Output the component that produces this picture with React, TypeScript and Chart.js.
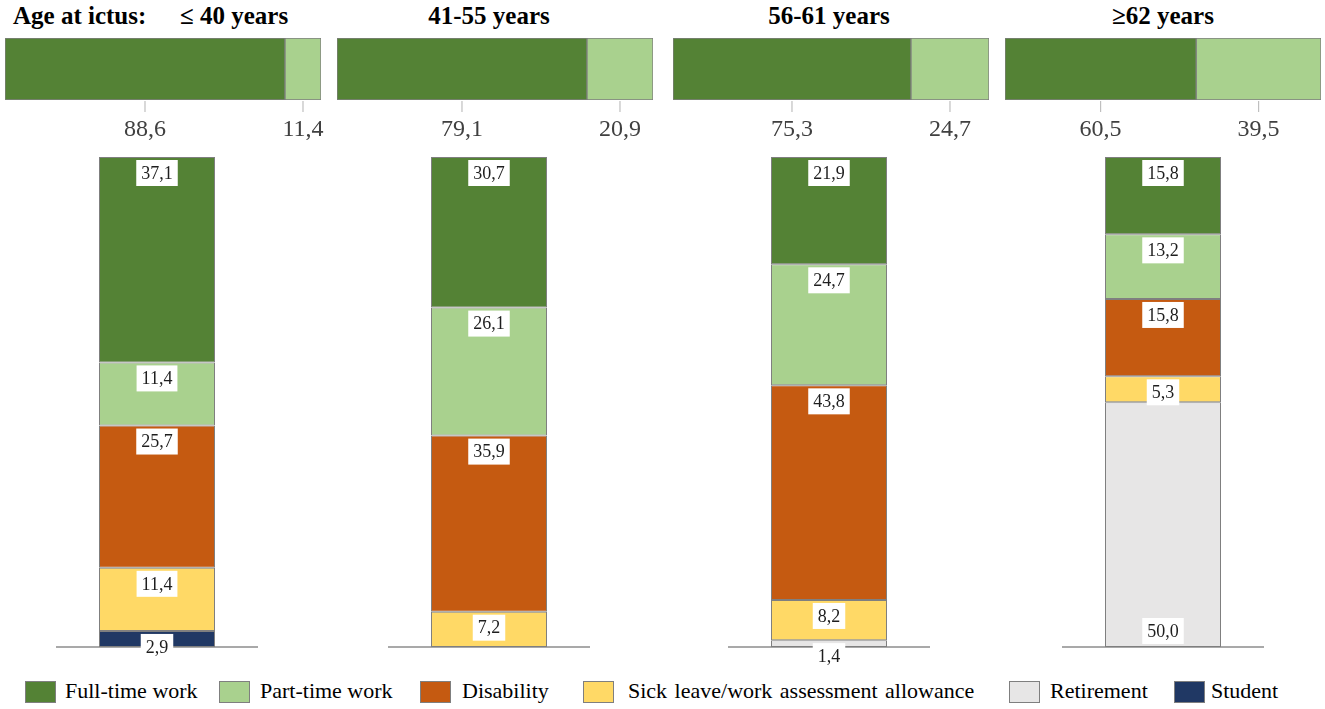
import React, { useEffect, useRef } from "react";
import { Chart, registerables } from "chart.js";

Chart.register(...registerables);

// age groups
const AGE_GROUPS = ["≤ 40 years", "41-55 years", "56-61 years", "≥62 years"];

// top bars: work status at ictus (%)
const AT_ICTUS_FULL = [88.6, 79.1, 75.3, 60.5];
const AT_ICTUS_PART = [11.4, 20.9, 24.7, 39.5];

// columns: status at follow-up (%)
const STATUS_LABELS = [
  "Full-time work",
  "Part-time work",
  "Disability",
  "Sick leave/work assessment allowance",
  "Retirement",
  "Student",
];
const FULL_TIME = [37.1, 30.7, 21.9, 15.8];
const PART_TIME = [11.4, 26.1, 24.7, 13.2];
const DISABILITY = [25.7, 35.9, 43.8, 15.8];
const SICK_LEAVE = [11.4, 7.2, 8.2, 5.3];
const RETIREMENT = [null, null, 1.4, 50.0];
const STUDENT = [2.9, null, null, null];

const STATUS_VALUES: (number | null)[][] = [FULL_TIME, PART_TIME, DISABILITY, SICK_LEAVE, RETIREMENT, STUDENT];
const STATUS_COLORS = ["#548235", "#A9D18E", "#C55A11", "#FFD966", "#E7E6E6", "#203864"];

const FONT = "'Liberation Serif', 'Times New Roman', serif";
const EDGE = "#7f7f7f";

// layout (px)
const TOP_BAR_LEFT = [5, 337, 673, 1005];
const TOP_BAR_WIDTH = 316;
const TOP_PAD = 26;
const COL_CENTER = [157, 489, 829, 1163];
const COL_WIDTH = 202;
const LEGEND_BOX_X = [25, 219, 420, 583, 1009, 1174];
const LEGEND_TEXT_X = [65, 260, 462, 628, 1050, 1211];
// labels anchored at the bottom of their segment, per group
const BASE_ANCHORED = [[], [], [], ["Retirement"]];

const fmt = (v: number) => v.toFixed(1).replace(".", ",");

const topLabels = {
  id: "topLabels",
  afterDatasetsDraw(chart: any) {
    const ctx = chart.ctx;
    ctx.save();
    ctx.font = `24px ${FONT}`;
    ctx.textAlign = "center";
    ctx.textBaseline = "middle";
    chart.data.datasets.forEach((ds: any, di: number) => {
      const el = chart.getDatasetMeta(di).data[0];
      if (!el) return;
      const { x, y, base, height } = el.getProps(["x", "y", "base", "height"], true);
      const cx = (x + base) / 2;
      const bottom = y + height / 2;
      ctx.strokeStyle = "#bfbfbf";
      ctx.lineWidth = 1.2;
      ctx.beginPath();
      ctx.moveTo(cx, bottom + 1);
      ctx.lineTo(cx, bottom + 12);
      ctx.stroke();
      ctx.fillStyle = "#404040";
      ctx.fillText(fmt(ds.data[0]), cx, bottom + 30);
    });
    ctx.restore();
  },
};

const columnLabels = {
  id: "columnLabels",
  beforeDatasetsDraw(chart: any) {
    const { ctx, chartArea } = chart;
    ctx.save();
    ctx.strokeStyle = "#8c8c8c";
    ctx.lineWidth = 1.5;
    ctx.beginPath();
    ctx.moveTo(chartArea.left, chartArea.bottom);
    ctx.lineTo(chartArea.right, chartArea.bottom);
    ctx.stroke();
    ctx.restore();
  },
  afterDatasetsDraw(chart: any, _args: any, opts: any) {
    const ctx = chart.ctx;
    ctx.save();
    ctx.font = `18px ${FONT}`;
    ctx.textAlign = "center";
    ctx.textBaseline = "middle";
    chart.data.datasets.forEach((ds: any, di: number) => {
      if (ds.rawValue == null) return;
      const el = chart.getDatasetMeta(di).data[0];
      if (!el) return;
      const { x, y, base } = el.getProps(["x", "y", "base"], true);
      const top = Math.min(y, base);
      const bottom = Math.max(y, base);
      const text = fmt(ds.rawValue);
      const w = ctx.measureText(text).width + 10;
      const h = 26;
      const boxTop = (opts.baseAnchored || []).includes(ds.label) ? bottom - 3 - h : top + 3;
      ctx.fillStyle = "#ffffff";
      ctx.fillRect(x - w / 2, boxTop, w, h);
      ctx.fillStyle = "#1e1e1e";
      ctx.fillText(text, x, boxTop + h / 2 + 1);
    });
    ctx.restore();
  },
};

const TopBar: React.FC<{ index: number }> = ({ index }) => {
  const canvasRef = useRef<HTMLCanvasElement | null>(null);
  useEffect(() => {
    if (!canvasRef.current) return;
    const chart = new Chart(canvasRef.current, {
      type: "bar",
      data: {
        labels: [AGE_GROUPS[index]],
        datasets: [
          { label: STATUS_LABELS[0], data: [AT_ICTUS_FULL[index]], backgroundColor: STATUS_COLORS[0] },
          { label: STATUS_LABELS[1], data: [AT_ICTUS_PART[index]], backgroundColor: STATUS_COLORS[1] },
        ].map((d) => ({ ...d, borderColor: EDGE, borderWidth: 1, borderSkipped: false, barPercentage: 1, categoryPercentage: 1 })),
      },
      options: {
        indexAxis: "y",
        animation: false,
        responsive: false,
        layout: { padding: { left: TOP_PAD, right: TOP_PAD, top: 1, bottom: 48 } },
        scales: {
          x: { display: false, stacked: true, min: 0, max: 100 },
          y: { display: false, stacked: true },
        },
        plugins: { legend: { display: false }, tooltip: { enabled: false } },
      },
      plugins: [topLabels],
    } as any);
    return () => chart.destroy();
  }, [index]);
  return (
    <canvas
      ref={canvasRef}
      width={TOP_BAR_WIDTH + 2 * TOP_PAD}
      height={111}
      style={{ position: "absolute", left: TOP_BAR_LEFT[index] - TOP_PAD, top: 37 }}
    />
  );
};

const Column: React.FC<{ index: number }> = ({ index }) => {
  const canvasRef = useRef<HTMLCanvasElement | null>(null);
  useEffect(() => {
    if (!canvasRef.current) return;
    const raw = STATUS_VALUES.map((vals) => vals[index]);
    const total = raw.reduce((s: number, v) => s + (v ?? 0), 0);
    // bottom of the stack first
    const order = [5, 4, 3, 2, 1, 0];
    const chart = new Chart(canvasRef.current, {
      type: "bar",
      data: {
        labels: [AGE_GROUPS[index]],
        datasets: order.map((k) => ({
          label: STATUS_LABELS[k],
          rawValue: raw[k],
          data: [raw[k] == null ? null : ((raw[k] as number) / total) * 100],
          backgroundColor: STATUS_COLORS[k],
          borderColor: EDGE,
          borderWidth: 1,
          borderSkipped: false,
          barPercentage: 116 / COL_WIDTH,
          categoryPercentage: 1,
        })),
      },
      options: {
        animation: false,
        responsive: false,
        layout: { padding: { left: 0, right: 0, top: 7, bottom: 28 } },
        scales: {
          x: { display: false, stacked: true },
          y: { display: false, stacked: true, min: 0, max: 100 },
        },
        plugins: {
          legend: { display: false },
          tooltip: { enabled: false },
          columnLabels: { baseAnchored: BASE_ANCHORED[index] },
        },
      },
      plugins: [columnLabels],
    } as any);
    return () => chart.destroy();
  }, [index]);
  return (
    <canvas
      ref={canvasRef}
      width={COL_WIDTH}
      height={525}
      style={{ position: "absolute", left: COL_CENTER[index] - COL_WIDTH / 2, top: 150 }}
    />
  );
};

const App: React.FC = () => {
  const titleStyle: React.CSSProperties = {
    position: "absolute",
    top: 1,
    fontFamily: FONT,
    fontWeight: "bold",
    fontSize: 25,
    lineHeight: "30px",
    whiteSpace: "nowrap",
    color: "#000",
  };
  return (
    <div
      style={{
        position: "fixed",
        left: 0,
        top: 0,
        width: 1325,
        height: 709,
        background: "#fff",
        overflow: "hidden",
      }}
    >
      <div style={{ ...titleStyle, left: 13 }}>Age at ictus:</div>
      <div style={{ ...titleStyle, left: 180 }}>{AGE_GROUPS[0]}</div>
      {AGE_GROUPS.slice(1).map((g, i) => (
        <div
          key={g}
          style={{ ...titleStyle, left: COL_CENTER[i + 1], transform: "translateX(-50%)" }}
        >
          {g}
        </div>
      ))}
      {AGE_GROUPS.map((g, i) => (
        <TopBar key={"t" + g} index={i} />
      ))}
      {AGE_GROUPS.map((g, i) => (
        <Column key={"c" + g} index={i} />
      ))}
      {STATUS_LABELS.map((s, i) => (
        <React.Fragment key={s}>
          <div
            style={{
              position: "absolute",
              left: LEGEND_BOX_X[i],
              top: 681,
              width: 29,
              height: 20,
              background: STATUS_COLORS[i],
              border: `1px solid ${EDGE}`,
            }}
          />
          <div
            style={{
              position: "absolute",
              left: LEGEND_TEXT_X[i],
              top: 676,
              fontFamily: FONT,
              fontSize: 22,
              lineHeight: "30px",
              whiteSpace: "nowrap",
              wordSpacing: i === 3 ? 2 : 0,
              color: "#000",
            }}
          >
            {s}
          </div>
        </React.Fragment>
      ))}
    </div>
  );
};

export default App;
